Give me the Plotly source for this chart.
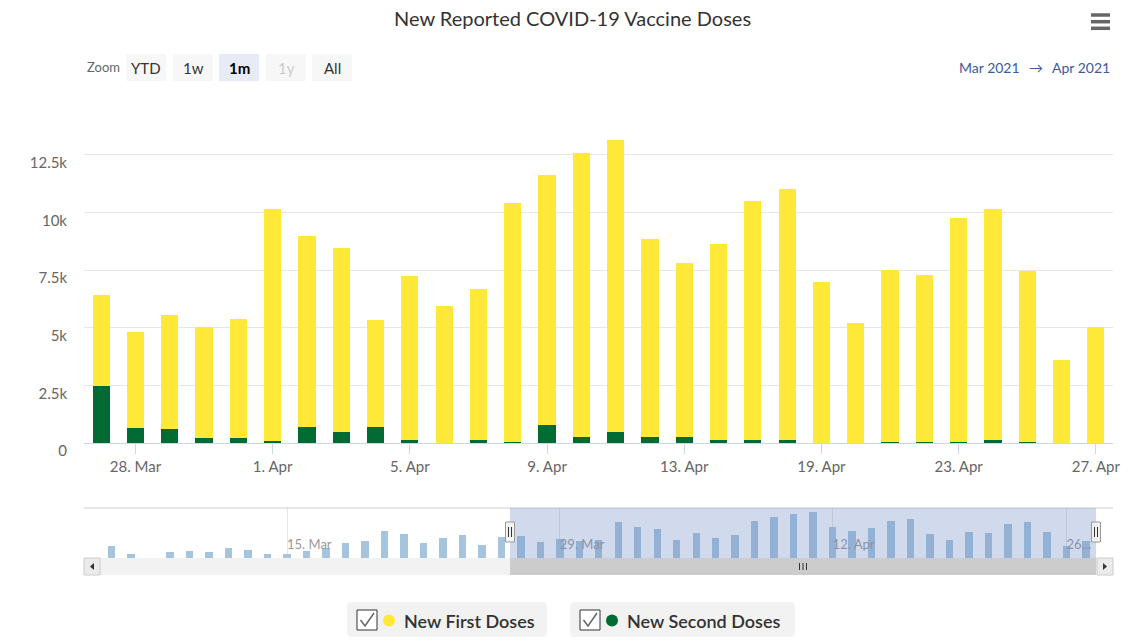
import plotly.graph_objects as go

# navigator covers 6 Mar - 27 Apr 2021 (17/18 Apr have no data, 8 Mar is zero)
nav_dates = [
    "2021-03-06", "2021-03-07", "2021-03-08", "2021-03-09", "2021-03-10", "2021-03-11",
    "2021-03-12", "2021-03-13", "2021-03-14", "2021-03-15", "2021-03-16", "2021-03-17",
    "2021-03-18", "2021-03-19", "2021-03-20", "2021-03-21", "2021-03-22", "2021-03-23",
    "2021-03-24", "2021-03-25", "2021-03-26",
    "2021-03-27", "2021-03-28", "2021-03-29", "2021-03-30", "2021-03-31", "2021-04-01",
    "2021-04-02", "2021-04-03", "2021-04-04", "2021-04-05", "2021-04-06", "2021-04-07",
    "2021-04-08", "2021-04-09", "2021-04-10", "2021-04-11", "2021-04-12", "2021-04-13",
    "2021-04-14", "2021-04-15", "2021-04-16", "2021-04-19", "2021-04-20", "2021-04-21",
    "2021-04-22", "2021-04-23", "2021-04-24", "2021-04-25", "2021-04-26", "2021-04-27",
]
dates = nav_dates[21:]

first_doses = [3950, 4160, 4930, 4780, 5140, 10070, 8250, 7980, 4620, 7100,
               5900, 6550, 10360, 10850, 12320, 12650, 8570, 7540, 8500, 10360,
               10890, 7000, 5210, 7440, 7220, 9710, 10020, 7390, 3590, 5010]
second_doses = [2460, 670, 610, 230, 230, 70, 710, 490, 710, 120,
                20, 120, 60, 770, 270, 490, 270, 270, 120, 120,
                120, 0, 0, 60, 60, 60, 120, 60, 0, 0]
# total doses before the selected window (navigator only)
early_totals = [3600, 1500, 0, 1850, 2150, 1850, 3200, 2400, 1500, 1500, 2250,
                3200, 4400, 5100, 7700, 6900, 4400, 5800, 6600, 4000, 6200]
nav_totals = early_totals + [f + s for f, s in zip(first_doses, second_doses)]

x_ticks = ["2021-03-28", "2021-04-01", "2021-04-05", "2021-04-09",
           "2021-04-13", "2021-04-19", "2021-04-23", "2021-04-27"]
x_labels = ["28. Mar", "1. Apr", "5. Apr", "9. Apr", "13. Apr", "19. Apr", "23. Apr", "27. Apr"]
nav_ticks = ["2021-03-15", "2021-03-29", "2021-04-12", "2021-04-26"]
nav_labels = ["15. Mar", "29. Mar", "12. Apr", "26…"]
y_ticks = [0, 2500, 5000, 7500, 10000, 12500, 15000]
y_labels = ["0", "2.5k", "5k", "7.5k", "10k", "12.5k", ""]

FONT = "Source Sans Pro, Lato, sans-serif"
YELLOW = "#FFE838"
GREEN = "#006B33"

# page body has an 8px margin, so the figure is drawn 8px in from the window edge
OFF = 8
FIG_W, FIG_H = 1148 - OFF, 641 - OFF
# pixel (window coords) -> paper helpers, plot area 84..1113 x 97..558
L, R, T, B = 84, 1113, 97, 558
W, H = R - L, B - T


def X(px):
    return (px - L) / W


def Y(py):
    return (B - py) / H


def rrect(x0, y0, x1, y1, r):
    return (f"M {X(x0 + r)},{Y(y0)} L {X(x1 - r)},{Y(y0)} Q {X(x1)},{Y(y0)} {X(x1)},{Y(y0 + r)} "
            f"L {X(x1)},{Y(y1 - r)} Q {X(x1)},{Y(y1)} {X(x1 - r)},{Y(y1)} "
            f"L {X(x0 + r)},{Y(y1)} Q {X(x0)},{Y(y1)} {X(x0)},{Y(y1 - r)} "
            f"L {X(x0)},{Y(y0 + r)} Q {X(x0)},{Y(y0)} {X(x0 + r)},{Y(y0)} Z")


def box(x0, y0, x1, y1, fill, line=None, lw=1):
    return dict(type="rect", xref="paper", yref="paper", x0=X(x0), x1=X(x1), y0=Y(y1), y1=Y(y0),
                fillcolor=fill, line=dict(color=line or fill, width=lw if line else 0), layer="above")


def seg(x0, y0, x1, y1, color, lw):
    return dict(type="line", xref="paper", yref="paper", x0=X(x0), x1=X(x1), y0=Y(y0), y1=Y(y1),
                line=dict(color=color, width=lw), layer="above")


fig = go.Figure()
fig.add_trace(go.Bar(x=dates, y=second_doses, name="New Second Doses", marker_color=GREEN,
                     marker_line_width=0, width=0.5))
fig.add_trace(go.Bar(x=dates, y=first_doses, name="New First Doses", marker_color=YELLOW,
                     marker_line_width=0, width=0.5))
fig.add_trace(go.Bar(x=nav_dates, y=nav_totals, marker_color="#a6c4dc", marker_line_width=0,
                     width=0.38, xaxis="x2", yaxis="y2", hoverinfo="skip"))

shapes = []
# chart title
annotations = [dict(text="New Reported COVID-19 Vaccine Doses", x=X(572), y=Y(18.5), xref="paper",
                    yref="paper", showarrow=False, xanchor="center", yanchor="middle",
                    font=dict(family=FONT, size=20, color="#333333"))]
# zoom buttons
btns = [("YTD", 126, "#f7f7f7", "#333333", False), ("1w", 173, "#f7f7f7", "#333333", False),
        ("1m", 219, "#e6ebf5", "#000000", True), ("1y", 266, "#f7f7f7", "#cccccc", False),
        ("All", 312, "#f7f7f7", "#333333", False)]
annotations.append(dict(text="Zoom", x=X(85), y=Y(67), xref="paper", yref="paper", xanchor="left",
                        yanchor="middle", showarrow=False,
                        font=dict(family=FONT, size=13, color="#666666")))
for label, bx, fill, col, bold in btns:
    shapes.append(box(bx, 54, bx + 40, 81, fill))
    annotations.append(dict(text=f"<b>{label}</b>" if bold else label, x=X(bx + 20), y=Y(68),
                            xref="paper", yref="paper", showarrow=False, xanchor="center",
                            yanchor="middle", font=dict(family=FONT, size=15, color=col)))

# date range inputs
for txt, cx in [("Mar 2021", 989), ("→", 1036), ("Apr 2021", 1081)]:
    annotations.append(dict(text=txt, x=X(cx), y=Y(67), xref="paper", yref="paper", showarrow=False,
                            xanchor="center", yanchor="middle",
                            font=dict(family=FONT, size=14, color="#3d5a99")))

# hamburger menu
for yy in [15, 21.7, 28.3]:
    shapes.append(seg(1091, yy, 1110, yy, "#666666", 3.5))

# navigator decorations
shapes.append(seg(L, 508, R, 508, "#cccccc", 1))
shapes.append(box(510, 508, 1096, 558, "rgba(102,133,194,0.3)"))
for hx in [510, 1096]:
    shapes.append(box(hx - 4.5, 522, hx + 4.5, 542, "#f2f2f2", "#999999", 1))
    shapes.append(seg(hx - 1.5, 527, hx - 1.5, 537, "#333333", 1))
    shapes.append(seg(hx + 1.5, 527, hx + 1.5, 537, "#333333", 1))

# scrollbar
shapes.append(box(L, 558, R, 575, "#f2f2f2"))
shapes.append(box(510, 558, 1096, 575, "#cccccc"))
for rx in [799.5, 803, 806.5]:
    shapes.append(seg(rx, 563, rx, 570, "#333333", 1))
shapes.append(box(L, 558, L + 16, 575, "#ebebeb", "#cccccc", 1))
shapes.append(box(R - 16, 558, R, 575, "#ebebeb", "#cccccc", 1))
shapes.append(dict(type="path", xref="paper", yref="paper", fillcolor="#333333", line_width=0,
                   layer="above",
                   path=f"M {X(94)},{Y(563)} L {X(94)},{Y(570)} L {X(90)},{Y(566.5)} Z"))
shapes.append(dict(type="path", xref="paper", yref="paper", fillcolor="#333333", line_width=0,
                   layer="above",
                   path=f"M {X(1103)},{Y(563)} L {X(1103)},{Y(570)} L {X(1107)},{Y(566.5)} Z"))

# legend
legend_items = [("New First Doses", 347, 547, YELLOW), ("New Second Doses", 570, 795, GREEN)]
for name, x0, x1, col in legend_items:
    shapes.append(dict(type="path", xref="paper", yref="paper", path=rrect(x0, 602, x1, 637, 5),
                       fillcolor="#f2f2f2", line_width=0, layer="above"))
    cb = x0 + 10
    shapes.append(box(cb, 610, cb + 20, 630, "#ffffff", "#333333", 1))
    shapes.append(dict(type="path", xref="paper", yref="paper", line=dict(color="#666666", width=1.5),
                       layer="above",
                       path=f"M {X(cb + 3.5)},{Y(620)} L {X(cb + 8)},{Y(626)} L {X(cb + 17)},{Y(613)}"))
    shapes.append(dict(type="circle", xref="paper", yref="paper", x0=X(cb + 26), x1=X(cb + 38),
                       y0=Y(626.5), y1=Y(614.5), fillcolor=col, line_width=0, layer="above"))
    annotations.append(dict(text=name, x=X(cb + 45), y=Y(620.5), xref="paper", yref="paper",
                            showarrow=False, xanchor="left", yanchor="middle",
                            font=dict(family=FONT, size=18, color="#333333", weight=600)))

fig.update_layout(
    width=FIG_W, height=FIG_H,
    margin=dict(l=L - OFF, r=FIG_W - (R - OFF), t=T - OFF, b=FIG_H - (B - OFF)),
    paper_bgcolor="white", plot_bgcolor="white",
    barmode="stack", showlegend=False,
    font=dict(family=FONT, color="#666666"),
    xaxis=dict(type="category", range=[-0.5, 29.5], tickvals=x_ticks, ticktext=x_labels,
               showgrid=False, showline=True, linecolor="#ccd6eb", linewidth=1,
               ticks="outside", ticklen=10, tickcolor="#ccd6eb",
               tickfont=dict(family=FONT, size=15, color="#666666"), anchor="y"),
    yaxis=dict(domain=[Y(443), 1], range=[0, 15000], tickvals=y_ticks, ticktext=y_labels,
               gridcolor="#e6e6e6", zeroline=False, showline=False, ticks="",
               ticklabelstandoff=16, ticklabelshift=8,
               tickfont=dict(family=FONT, size=15, color="#666666")),
    xaxis2=dict(type="category", range=[-1.42, 51.39], tickvals=nav_ticks, ticktext=nav_labels,
                showgrid=True, gridcolor="#e6e6e6", showline=False, ticks="",
                ticklabelposition="inside right", anchor="y2",
                tickfont=dict(family=FONT, size=13, color="#999999")),
    yaxis2=dict(domain=[0, Y(508)], range=[300, 14150], showgrid=False, zeroline=False,
                showticklabels=False, anchor="x2"),
    shapes=shapes,
    annotations=annotations,
)

fig.write_html("out.html")
